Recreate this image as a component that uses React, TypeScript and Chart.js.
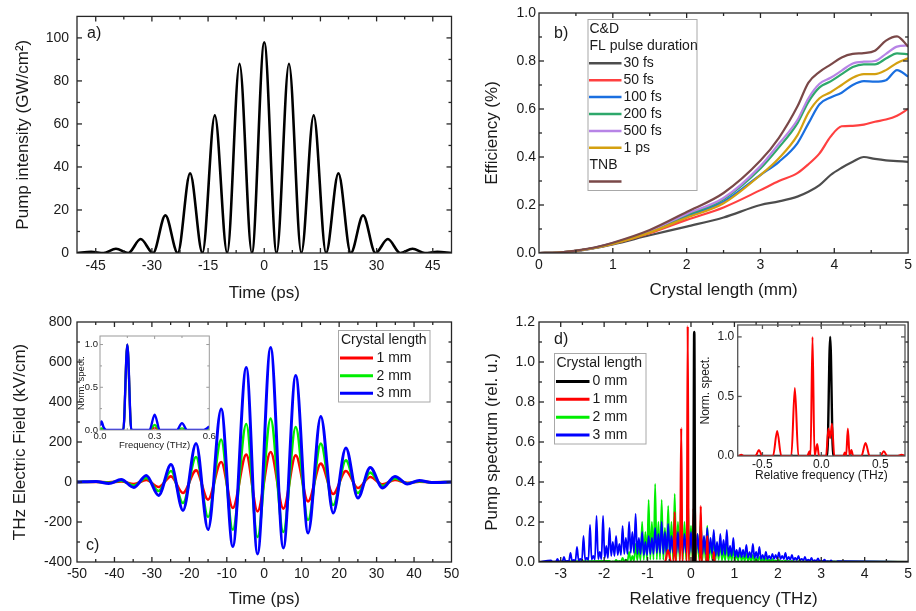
import React, { useEffect, useRef } from 'react';
import { Chart, registerables } from 'chart.js';

Chart.register(...registerables);

const W = 916;
const H = 611;
const FONT = '"Liberation Sans", Arial, Helvetica, sans-serif';
const INK = '#1a1a1a';

// ---------------- Panel a: pump intensity vs time ----------------
const aTime = [-50, -46.2, -42.9, -39.6, -36.3, -33, -29.7, -26.4, -23.1, -19.8, -16.5, -13.2, -9.9, -6.6, -3.3, 0, 3.3, 6.6, 9.9, 13.2, 16.5, 19.8, 23.1, 26.4, 29.7, 33, 36.3, 39.6, 42.9, 46.2, 50];
const aIntensity = [0, 0.5, 0, 2, 0, 6.5, 0, 17.5, 0, 37, 0, 64, 0, 88, 0, 98, 0, 88, 0, 64, 0, 37, 0, 17.5, 0, 6.5, 0, 2, 0, 0.5, 0];
const aXTicks = [-45, -30, -15, 0, 15, 30, 45];
const aXMinor = [-37.5, -22.5, -7.5, 7.5, 22.5, 37.5];
const aYTicks = [0, 20, 40, 60, 80, 100];
const aYMinor = [10, 30, 50, 70, 90];

// ---------------- Panel b: efficiency vs crystal length ----------------
const bLength = [0, 0.25, 0.5, 0.75, 1, 1.5, 2, 2.5, 3, 3.25, 3.5, 3.65, 3.8, 3.95, 4.1, 4.25, 4.4, 4.55, 4.7, 4.85, 5];
const b30fs = [0, 0.002, 0.008, 0.02, 0.036, 0.074, 0.11, 0.148, 0.2, 0.215, 0.235, 0.255, 0.283, 0.325, 0.355, 0.38, 0.4, 0.392, 0.386, 0.383, 0.38];
const b50fs = [0, 0.002, 0.009, 0.021, 0.038, 0.082, 0.138, 0.19, 0.262, 0.3, 0.333, 0.37, 0.415, 0.485, 0.528, 0.53, 0.535, 0.547, 0.556, 0.572, 0.6];
const b100fs = [0, 0.002, 0.009, 0.021, 0.039, 0.088, 0.153, 0.214, 0.325, 0.38, 0.457, 0.54, 0.62, 0.648, 0.668, 0.7, 0.716, 0.714, 0.72, 0.762, 0.735];
const b200fs = [0, 0.002, 0.009, 0.022, 0.04, 0.09, 0.158, 0.224, 0.352, 0.44, 0.54, 0.63, 0.69, 0.715, 0.745, 0.775, 0.786, 0.786, 0.81, 0.832, 0.828];
const b500fs = [0, 0.002, 0.009, 0.022, 0.041, 0.092, 0.163, 0.229, 0.362, 0.455, 0.554, 0.645, 0.705, 0.73, 0.76, 0.79, 0.797, 0.8, 0.83, 0.86, 0.865];
const b1ps = [0, 0.002, 0.009, 0.021, 0.038, 0.085, 0.147, 0.207, 0.325, 0.395, 0.49, 0.585, 0.645, 0.67, 0.7, 0.73, 0.745, 0.745, 0.762, 0.792, 0.811];
const bTNB = [0, 0.002, 0.01, 0.023, 0.043, 0.096, 0.171, 0.25, 0.385, 0.48, 0.61, 0.71, 0.755, 0.785, 0.815, 0.83, 0.833, 0.843, 0.885, 0.903, 0.86];
const bNames = ['30 fs', '50 fs', '100 fs', '200 fs', '500 fs', '1 ps'];
const bColors = ['#4d4d4d', '#ff4040', '#1a6fe0', '#2ea86b', '#b784e6', '#d4a010'];
const bTNBColor = '#7a4848';
const bXTicks = [0, 1, 2, 3, 4, 5];
const bXMinor = [0.5, 1.5, 2.5, 3.5, 4.5];
const bYTicks = [0, 0.2, 0.4, 0.6, 0.8, 1.0];
const bYMinor = [0.1, 0.3, 0.5, 0.7, 0.9];

// ---------------- Panel c: THz field vs time ----------------
const cTime = [-50, -44.9, -41.5, -38.2, -34.8, -31.5, -28.2, -24.9, -21.7, -18.2, -15, -11.5, -8.4, -4.8, -1.8, 1.7, 5.1, 8.4, 11.7, 15.1, 18.4, 21.8, 25, 28.3, 31.6, 34.9, 38.2, 41.4, 44.7, 50];
const c3mm = [0, 3, -8, 12, -27, 33, -67, 87, -142, 192, -238, 365, -322, 573, -360, 673, -330, 532, -255, 328, -155, 170, -80, 73, -30, 28, -10, 8, -3, 0];
const c2mm = [0, 1, -4, 6, -18, 20, -45, 55, -105, 125, -175, 212, -238, 290, -275, 317, -250, 275, -190, 192, -115, 108, -55, 47, -20, 18, -6, 4, -2, 0];
const c1mm = [0, 0.5, -2, 3, -10, 10, -25, 28, -55, 58, -88, 100, -130, 137, -147, 150, -133, 133, -97, 92, -60, 55, -30, 25, -12, 10, -4, 2, -1, 0];
const cNames = ['1 mm', '2 mm', '3 mm'];
const cColors = ['#ff0000', '#00ee00', '#0000ff'];
const cXTicks = [-50, -40, -30, -20, -10, 0, 10, 20, 30, 40, 50];
const cXMinor = [-45, -35, -25, -15, -5, 5, 15, 25, 35, 45];
const cYTicks = [-400, -200, 0, 200, 400, 600, 800];
const cYMinor = [-300, -100, 100, 300, 500, 700];

// inset of c: normalized THz spectrum
const ciFreq = [0, 0.008, 0.02, 0.035, 0.128, 0.15, 0.172, 0.272, 0.3, 0.328, 0.422, 0.45, 0.478, 0.57, 0.6];
const ci3mm = [0.05, 0.1, 0.03, 0, 0, 1.0, 0, 0, 0.18, 0, 0, 0.08, 0, 0, 0.04];
const ci2mm = [0.01, 0.02, 0.01, 0, 0, 1.0, 0, 0, 0.06, 0, 0, 0.02, 0, 0, 0.01];
const ci1mm = [0, 0.01, 0, 0, 0, 1.0, 0, 0, 0.025, 0, 0, 0.005, 0, 0, 0];

// ---------------- Panel d: pump spectrum ----------------
const d0Freq = [-3.5, 0.055, 0.075, 0.095, 5];
const d0mm = [0, 0, 1.15, 0, 0];
const d1Freq = [-3.5, -0.6, -0.53, -0.46, -0.4, -0.375, -0.35, -0.25, -0.225, -0.2, -0.095, -0.075, -0.055, 0.04, 0.06, 0.075, 0.09, 0.105, 0.205, 0.225, 0.245, 0.355, 0.375, 0.395, 0.505, 0.525, 0.545, 5];
const d1mm = [0, 0, 0.06, 0, 0, 0.25, 0, 0, 0.67, 0, 0, 1.18, 0, 0, 0.27, 0.15, 0.32, 0, 0, 0.28, 0, 0, 0.13, 0, 0, 0.05, 0, 0];
const d2PeakFreq = [-1.875, -1.725, -1.575, -1.425, -1.275, -1.125, -0.975, -0.825, -0.675, -0.525, -0.375, -0.225, -0.075, 0.075, 0.225, 0.375, 0.525, 0.675, 0.825, 0.975, 1.125, 1.275, 1.425, 1.575, 1.725, 1.875, 2.025, 2.175, 2.325, 2.475, 2.625];
const d2Peak = [0.005, 0.01, 0.02, 0.05, 0.09, 0.2, 0.31, 0.39, 0.31, 0.28, 0.34, 0.33, 0.35, 0.26, 0.22, 0.18, 0.145, 0.11, 0.09, 0.07, 0.055, 0.04, 0.035, 0.025, 0.02, 0.015, 0.01, 0.008, 0.006, 0.004, 0.003];
const d2Sub = [0.003, 0.006, 0.012, 0.03, 0.08, 0.15, 0.2, 0.2, 0.17, 0.2, 0.2, 0.2, 0.18, 0.14, 0.12, 0.1, 0.08, 0.06, 0.05, 0.04, 0.03, 0.025, 0.02, 0.015, 0.012, 0.008, 0.006, 0.005, 0.003, 0.002];
const d2Valley = [0.001, 0.002, 0.003, 0.005, 0.008, 0.01, 0.012, 0.012, 0.012, 0.012, 0.012, 0.012, 0.012, 0.012, 0.01, 0.01, 0.01, 0.008, 0.008, 0.007, 0.006, 0.005, 0.004, 0.004, 0.003, 0.003, 0.002, 0.002, 0.001, 0.001];
const d3PeakFreq = [-3.225, -3.075, -2.925, -2.775, -2.625, -2.475, -2.325, -2.175, -2.025, -1.875, -1.725, -1.575, -1.425, -1.275, -1.125, -0.975, -0.825, -0.675, -0.525, -0.375, -0.225, -0.075, 0.075, 0.225, 0.375, 0.525, 0.675, 0.825, 0.975, 1.125, 1.275, 1.425, 1.575, 1.725, 1.875, 2.025, 2.175, 2.325, 2.475, 2.625, 2.775, 2.925, 3.075, 3.225, 3.375];
const d3Peak = [0.008, 0.015, 0.025, 0.045, 0.075, 0.13, 0.185, 0.23, 0.23, 0.17, 0.13, 0.18, 0.2, 0.24, 0.15, 0.13, 0.17, 0.2, 0.19, 0.2, 0.16, 0.21, 0.2, 0.19, 0.17, 0.16, 0.14, 0.16, 0.12, 0.07, 0.085, 0.09, 0.075, 0.05, 0.04, 0.048, 0.045, 0.035, 0.03, 0.025, 0.02, 0.018, 0.012, 0.008, 0.004];
const d3Sub = [0.002, 0.004, 0.006, 0.01, 0.015, 0.02, 0.03, 0.05, 0.08, 0.1, 0.09, 0.12, 0.15, 0.12, 0.1, 0.12, 0.14, 0.15, 0.13, 0.15, 0.14, 0.15, 0.14, 0.13, 0.12, 0.1, 0.11, 0.08, 0.06, 0.06, 0.05, 0.05, 0.035, 0.03, 0.035, 0.03, 0.025, 0.02, 0.016, 0.012, 0.009, 0.006, 0.004, 0.002];
const d3Valley = [0.001, 0.002, 0.003, 0.005, 0.007, 0.01, 0.012, 0.015, 0.02, 0.03, 0.035, 0.04, 0.045, 0.04, 0.035, 0.04, 0.045, 0.04, 0.045, 0.04, 0.045, 0.04, 0.045, 0.04, 0.04, 0.03, 0.035, 0.03, 0.025, 0.025, 0.022, 0.02, 0.015, 0.015, 0.016, 0.015, 0.012, 0.01, 0.008, 0.006, 0.005, 0.003, 0.002, 0.001];
const dNames = ['0 mm', '1 mm', '2 mm', '3 mm'];
const dColors = ['#000000', '#ff0000', '#00ee00', '#0000ff'];
const dXTicks = [-3, -2, -1, 0, 1, 2, 3, 4, 5];
const dXMinor = [-2.5, -1.5, -0.5, 0.5, 1.5, 2.5, 3.5, 4.5];
const dYTicks = [0, 0.2, 0.4, 0.6, 0.8, 1.0, 1.2];
const dYMinor = [0.1, 0.3, 0.5, 0.7, 0.9, 1.1];

// inset of d: normalized spectra
const diFreq0 = [-0.72, 0.05, 0.075, 0.1, 0.72];
const di0mm = [0, 0, 1.0, 0, 0];
const diFreq1 = [-0.72, -0.70, -0.68, -0.66, -0.56, -0.53, -0.50, -0.41, -0.375, -0.34, -0.255, -0.225, -0.195, -0.12, -0.1, -0.092, -0.075, -0.058, -0.035, -0.02, 0.04, 0.06, 0.075, 0.09, 0.11, 0.185, 0.2, 0.21, 0.225, 0.24, 0.255, 0.27, 0.34, 0.375, 0.41, 0.5, 0.53, 0.56, 0.65, 0.68, 0.71];
const di1mm = [0, 0, 0.01, 0, 0, 0.05, 0, 0, 0.21, 0, 0, 0.57, 0, 0, 0.04, 0, 1.0, 0, 0.1, 0, 0, 0.23, 0.15, 0.27, 0, 0, 0.03, 0, 0.23, 0, 0.05, 0, 0, 0.11, 0, 0, 0.04, 0, 0, 0.01, 0];

// ---------------- helpers ----------------
const pts = (xs: number[], ys: number[]) => xs.map((x, i) => ({ x, y: ys[i] }));

// comb spectrum: main lines, dips and a secondary line between each pair of main lines
function comb(freq: number[], peaks: number[], subs: number[], dips: number[], lo: number, hi: number) {
  const out = [{ x: lo, y: 0 }];
  freq.forEach((f, i) => {
    out.push({ x: f, y: peaks[i] });
    if (i < freq.length - 1) {
      const q = (freq[i + 1] - f) / 4;
      out.push({ x: f + q, y: dips[i] });
      out.push({ x: f + 2 * q, y: subs[i] });
      out.push({ x: f + 3 * q, y: dips[i] });
    }
  });
  out.push({ x: hi, y: 0 });
  return out;
}

function ds(data: any[], color: string, width: number) {
  return {
    data,
    borderColor: color,
    backgroundColor: color,
    borderWidth: width,
    pointRadius: 0,
    fill: false,
    cubicInterpolationMode: 'monotone',
  };
}

function makeDecor(o: any) {
  return {
    id: 'decor',
    afterDraw(chart: any) {
      const ctx = chart.ctx as CanvasRenderingContext2D;
      const a = chart.chartArea;
      const sx = chart.scales.x;
      const sy = chart.scales.y;
      ctx.save();
      const seg = (x1: number, y1: number, x2: number, y2: number) => {
        ctx.beginPath();
        ctx.moveTo(x1, y1);
        ctx.lineTo(x2, y2);
        ctx.stroke();
      };
      ctx.strokeStyle = o.frameColor;
      ctx.lineWidth = o.frameWidth;
      ctx.strokeRect(a.left, a.top, a.right - a.left, a.bottom - a.top);
      const xt = (vals: number[], len: number) =>
        vals.forEach((v) => {
          const px = sx.getPixelForValue(v);
          if (px <= a.left + 0.5 || px >= a.right - 0.5) return;
          seg(px, a.bottom, px, a.bottom - len);
          seg(px, a.top, px, a.top + len);
        });
      const yt = (vals: number[], len: number) =>
        vals.forEach((v) => {
          const py = sy.getPixelForValue(v);
          if (py <= a.top + 0.5 || py >= a.bottom - 0.5) return;
          seg(a.left, py, a.left + len, py);
          seg(a.right, py, a.right - len, py);
        });
      xt(sx.ticks.map((t: any) => t.value), o.majorLen);
      xt(o.xMinor, o.minorLen);
      yt(sy.ticks.map((t: any) => t.value), o.majorLen);
      yt(o.yMinor, o.minorLen);

      // axis titles
      ctx.fillStyle = INK;
      ctx.font = `${o.titleSize}px ${FONT}`;
      ctx.textAlign = 'center';
      ctx.textBaseline = 'middle';
      ctx.fillText(o.xTitle, (a.left + a.right) / 2, o.xTitleCy);
      ctx.save();
      ctx.translate(o.yTitleCx, (a.top + a.bottom) / 2);
      ctx.rotate(-Math.PI / 2);
      ctx.fillText(o.yTitle, 0, 0);
      ctx.restore();

      if (o.label) {
        ctx.fillStyle = INK;
        ctx.font = `${o.label.size}px ${FONT}`;
        ctx.textBaseline = 'middle';
        ctx.textAlign = 'left';
        ctx.fillText(o.label.text, o.label.x, o.label.y);
      }
      if (o.legend) {
        const L = o.legend;
        ctx.fillStyle = '#ffffff';
        ctx.fillRect(L.x1, L.y1, L.x2 - L.x1, L.y2 - L.y1);
        ctx.strokeStyle = '#a8a8a8';
        ctx.lineWidth = 1;
        ctx.strokeRect(L.x1 + 0.5, L.y1 + 0.5, L.x2 - L.x1 - 1, L.y2 - L.y1 - 1);
        ctx.font = `${L.size}px ${FONT}`;
        ctx.textBaseline = 'middle';
        ctx.textAlign = 'left';
        L.rows.forEach((r: any, i: number) => {
          const y = L.firstY + i * L.step;
          if (r.color) {
            ctx.strokeStyle = r.color;
            ctx.lineWidth = L.lw;
            seg(L.lx1, y, L.lx2, y);
            if (r.text) {
              ctx.fillStyle = INK;
              ctx.fillText(r.text, L.tx, y);
            }
          } else {
            ctx.fillStyle = INK;
            ctx.fillText(r.text, L.hx, y);
          }
        });
      }
      ctx.restore();
    },
  };
}

interface Spec {
  area: { left: number; top: number; right: number; bottom: number };
  xRange: [number, number];
  yRange: [number, number];
  xTicks: number[];
  yTicks: number[];
  xMinor: number[];
  yMinor: number[];
  xFmt: (v: number) => string;
  yFmt: (v: number) => string;
  xTitle: string;
  yTitle: string;
  yTitleCx: number;
  xTitleCy: number;
  tickSize: number;
  titleSize: number;
  yTickPad: number;
  xTickPad: number;
  frameColor: string;
  frameWidth: number;
  majorLen: number;
  minorLen: number;
  datasets: any[];
  legend?: any;
  label?: any;
}

function makeConfig(p: Spec): any {
  const yW = p.area.left - (p.yTitleCx - 12);
  const xH = p.xTitleCy + 12 - p.area.bottom;
  const tickFont = { family: FONT, size: p.tickSize };
  return {
    type: 'line',
    data: { datasets: p.datasets },
    options: {
      responsive: false,
      maintainAspectRatio: false,
      animation: false,
      devicePixelRatio: 1,
      events: [],
      layout: {
        padding: {
          left: p.area.left - yW,
          top: p.area.top,
          right: W - p.area.right,
          bottom: H - p.area.bottom - xH,
        },
      },
      plugins: { legend: { display: false }, tooltip: { enabled: false } },
      scales: {
        x: {
          type: 'linear',
          min: p.xRange[0],
          max: p.xRange[1],
          afterFit: (s: any) => {
            s.height = xH;
          },
          afterBuildTicks: (s: any) => {
            s.ticks = p.xTicks.map((v) => ({ value: v }));
          },
          grid: { display: false, drawTicks: false },
          border: { display: false },
          ticks: {
            padding: p.xTickPad,
            font: tickFont,
            color: INK,
            maxRotation: 0,
            autoSkip: false,
            callback: (v: number) => p.xFmt(v),
          },
          title: { display: false },
        },
        y: {
          type: 'linear',
          min: p.yRange[0],
          max: p.yRange[1],
          afterFit: (s: any) => {
            s.width = yW;
          },
          afterBuildTicks: (s: any) => {
            s.ticks = p.yTicks.map((v) => ({ value: v }));
          },
          grid: { display: false, drawTicks: false },
          border: { display: false },
          ticks: {
            padding: p.yTickPad,
            font: tickFont,
            color: INK,
            autoSkip: false,
            callback: (v: number) => p.yFmt(v),
          },
          title: { display: false },
        },
      },
    },
    plugins: [
      makeDecor({
        frameColor: p.frameColor,
        frameWidth: p.frameWidth,
        majorLen: p.majorLen,
        minorLen: p.minorLen,
        xMinor: p.xMinor,
        yMinor: p.yMinor,
        legend: p.legend,
        label: p.label,
        xTitle: p.xTitle,
        yTitle: p.yTitle,
        xTitleCy: p.xTitleCy,
        yTitleCx: p.yTitleCx,
        titleSize: p.titleSize,
      }),
    ],
  };
}

const intFmt = (v: number) => String(Math.round(v));
const f1 = (v: number) => v.toFixed(1);

const MAIN = { tickSize: 14, titleSize: 17, frameColor: '#262626', frameWidth: 1.3, majorLen: 5, minorLen: 3 };

function configs(): any[] {
  const A = makeConfig({
    ...MAIN,
    area: { left: 77, top: 13, right: 451.5, bottom: 253 },
    xRange: [-50, 50],
    yRange: [0, 110],
    xTicks: aXTicks,
    yTicks: aYTicks,
    xMinor: aXMinor,
    yMinor: aYMinor,
    xFmt: intFmt,
    yFmt: intFmt,
    xTitle: 'Time (ps)',
    yTitle: 'Pump intensity (GW/cm²)',
    yTitleCx: 23,
    xTitleCy: 293,
    yTickPad: 8,
    xTickPad: 5,
    datasets: [ds(pts(aTime, aIntensity), '#000000', 2.6)],
    label: { text: 'a)', x: 87, y: 34, size: 16 },
  });

  const bSeries = [b30fs, b50fs, b100fs, b200fs, b500fs, b1ps];
  const B = makeConfig({
    ...MAIN,
    area: { left: 539, top: 13, right: 912, bottom: 253 },
    xRange: [0, 5],
    yRange: [0, 1],
    xTicks: bXTicks,
    yTicks: bYTicks,
    xMinor: bXMinor,
    yMinor: bYMinor,
    xFmt: intFmt,
    yFmt: f1,
    xTitle: 'Crystal length (mm)',
    yTitle: 'Efficiency (%)',
    yTitleCx: 492,
    xTitleCy: 290,
    yTickPad: 3,
    xTickPad: 4,
    datasets: [ds(pts(bLength, bTNB), bTNBColor, 2.2)].concat(
      bSeries.map((s, i) => ds(pts(bLength, s), bColors[i], 2.2)).reverse()
    ),
    label: { text: 'b)', x: 554, y: 34, size: 16 },
    legend: {
      x1: 587.5, y1: 19, x2: 697.5, y2: 191,
      size: 14, firstY: 29.5, step: 16.9, lw: 2.5,
      lx1: 589, lx2: 621.5, tx: 623.5, hx: 589.5,
      rows: [{ text: 'C&D' }, { text: 'FL pulse duration' }]
        .concat(bNames.map((n, i) => ({ text: n, color: bColors[i] } as any)))
        .concat([{ text: 'TNB' }, { text: '', color: bTNBColor } as any]),
    },
  });

  const C = makeConfig({
    ...MAIN,
    area: { left: 77, top: 322, right: 451.5, bottom: 562 },
    xRange: [-50, 50],
    yRange: [-400, 800],
    xTicks: cXTicks,
    yTicks: cYTicks,
    xMinor: cXMinor,
    yMinor: cYMinor,
    xFmt: intFmt,
    yFmt: intFmt,
    xTitle: 'Time (ps)',
    yTitle: 'THz Electric Field (kV/cm)',
    yTitleCx: 20,
    xTitleCy: 599,
    yTickPad: 5,
    xTickPad: 4,
    datasets: [
      ds(pts(cTime, c3mm), cColors[2], 3),
      ds(pts(cTime, c2mm), cColors[1], 2.6),
      ds(pts(cTime, c1mm), cColors[0], 2.6),
    ],
    label: { text: 'c)', x: 86, y: 546, size: 16 },
    legend: {
      x1: 338, y1: 330, x2: 430.5, y2: 402.5,
      size: 14, firstY: 340.5, step: 17.6, lw: 3,
      lx1: 340, lx2: 373, tx: 376.5, hx: 341,
      rows: [{ text: 'Crystal length' } as any].concat(cNames.map((n, i) => ({ text: n, color: cColors[i] }))),
    },
  });

  const D = makeConfig({
    ...MAIN,
    area: { left: 539, top: 322, right: 912, bottom: 562 },
    xRange: [-3.5, 5],
    yRange: [0, 1.2],
    xTicks: dXTicks,
    yTicks: dYTicks,
    xMinor: dXMinor,
    yMinor: dYMinor,
    xFmt: intFmt,
    yFmt: f1,
    xTitle: 'Relative frequency (THz)',
    yTitle: 'Pump spectrum (rel. u.)',
    yTitleCx: 492.5,
    xTitleCy: 599,
    yTickPad: 4,
    xTickPad: 4,
    // first dataset is drawn on top: 0 mm, 1 mm, 3 mm, then 2 mm underneath
    datasets: [
      ds(pts(d0Freq, d0mm), dColors[0], 2.6),
      ds(pts(d1Freq, d1mm), dColors[1], 2.2),
      ds(comb(d3PeakFreq, d3Peak, d3Sub, d3Valley, -3.5, 5), dColors[3], 1.8),
      ds(comb(d2PeakFreq, d2Peak, d2Sub, d2Valley, -3.5, 5), dColors[2], 1.8),
    ],
    label: { text: 'd)', x: 554, y: 340, size: 16 },
    legend: {
      x1: 554, y1: 353, x2: 646.5, y2: 444.5,
      size: 14, firstY: 363.5, step: 17.9, lw: 3,
      lx1: 556, lx2: 589.5, tx: 592.5, hx: 556.5,
      rows: [{ text: 'Crystal length' } as any].concat(dNames.map((n, i) => ({ text: n, color: dColors[i] }))),
    },
  });

  const CI = makeConfig({
    tickSize: 9.5,
    titleSize: 9.5,
    frameColor: '#9a9a9a',
    frameWidth: 1,
    majorLen: 3,
    minorLen: 2,
    area: { left: 100, top: 336, right: 209.3, bottom: 430 },
    xRange: [0, 0.6],
    yRange: [0, 1.1],
    xTicks: [0, 0.3, 0.6],
    yTicks: [0, 0.5, 1.0],
    xMinor: [0.15, 0.45],
    yMinor: [0.25, 0.75],
    xFmt: f1,
    yFmt: f1,
    xTitle: 'Frequency (THz)',
    yTitle: 'Norm. spect.',
    yTitleCx: 81.5,
    xTitleCy: 445.7,
    yTickPad: 2,
    xTickPad: 1,
    datasets: [
      ds(pts(ciFreq, ci3mm), cColors[2], 2.4),
      ds(pts(ciFreq, ci2mm), cColors[1], 2.2),
      ds(pts(ciFreq, ci1mm), cColors[0], 2.2),
    ],
  });

  const DI = makeConfig({
    tickSize: 12,
    titleSize: 12,
    frameColor: '#555555',
    frameWidth: 1.3,
    majorLen: 4,
    minorLen: 2,
    area: { left: 737.7, top: 325, right: 905, bottom: 456 },
    xRange: [-0.71, 0.71],
    yRange: [0, 1.1],
    xTicks: [-0.5, 0, 0.5],
    yTicks: [0, 0.5, 1.0],
    xMinor: [-0.25, 0.25],
    yMinor: [0.25, 0.75],
    xFmt: f1,
    yFmt: f1,
    xTitle: 'Relative frequency (THz)',
    yTitle: 'Norm. spect.',
    yTitleCx: 706,
    xTitleCy: 475.7,
    yTickPad: 3.5,
    xTickPad: 1,
    datasets: [
      ds(pts(diFreq1, di1mm), dColors[1], 2),
      ds(pts(diFreq0, di0mm), dColors[0], 2.4),
    ],
  });

  return [A, B, C, D, CI, DI];
}

export default function App() {
  const refs = useRef<(HTMLCanvasElement | null)[]>([]);
  useEffect(() => {
    const cfgs = configs();
    const charts = cfgs.map((cfg, i) => new Chart(refs.current[i] as HTMLCanvasElement, cfg));
    return () => charts.forEach((c) => c.destroy());
  }, []);
  return (
    <div style={{ position: 'absolute', left: 0, top: 0, width: W, height: H, background: '#ffffff' }}>
      {[0, 1, 2, 3, 4, 5].map((i) => (
        <canvas
          key={i}
          ref={(el) => {
            refs.current[i] = el;
          }}
          width={W}
          height={H}
          style={{ position: 'absolute', left: 0, top: 0, width: W, height: H }}
        />
      ))}
    </div>
  );
}
